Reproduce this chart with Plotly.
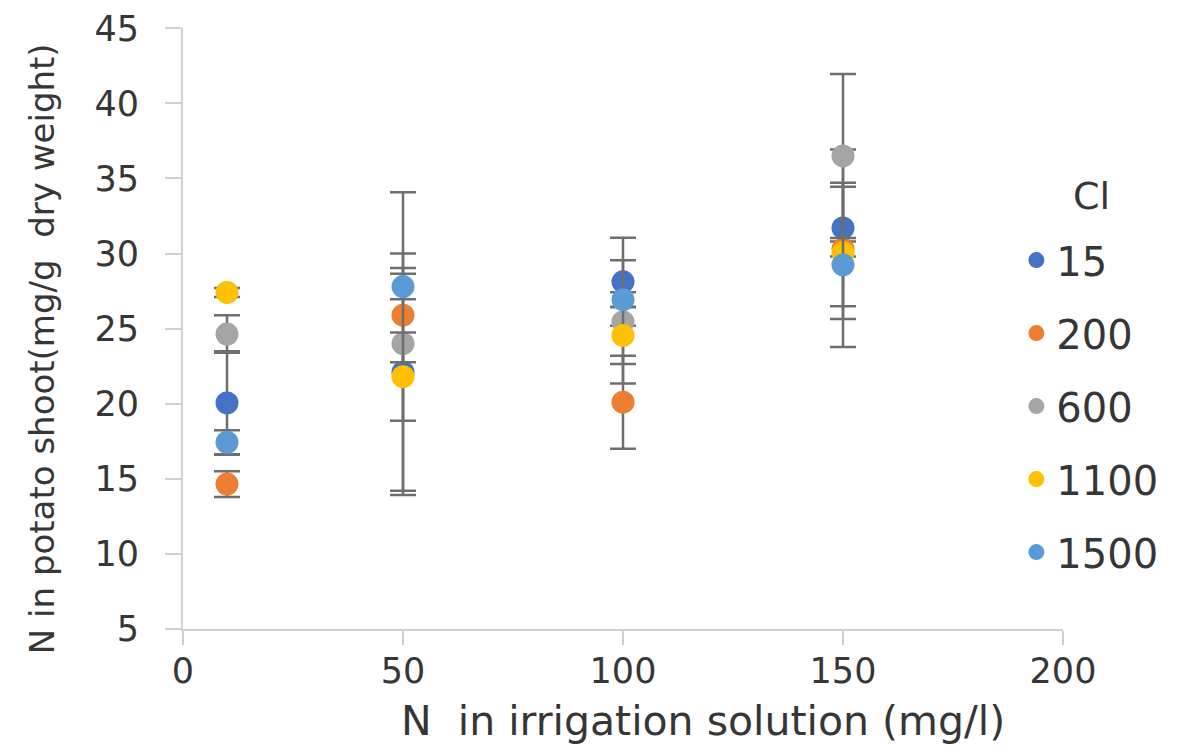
import plotly.graph_objects as go

x_vals = [10, 50, 100, 150]
series_names = ["15", "200", "600", "1100", "1500"]
colors = ["#4472C4", "#ED7D31", "#A5A5A5", "#FFC000", "#5B9BD5"]

y_15 = [20.05, 22.1, 28.12, 31.71]
y_200 = [14.65, 25.9, 20.1, 30.3]
y_600 = [24.64, 24.0, 25.45, 36.5]
y_1100 = [27.41, 21.8, 24.55, 30.05]
y_1500 = [17.43, 27.8, 26.93, 29.25]

err_15 = [3.45, 7.9, 2.93, 5.22]
err_200 = [0.86, 3.14, 3.1, 0.5]
err_600 = [1.25, 10.08, 4.1, 5.46]
err_1100 = [0.3, 2.94, 1.9, 4.4]
err_1500 = [0.8, 0.85, 0.5, 5.47]

ys = [y_15, y_200, y_600, y_1100, y_1500]
errs = [err_15, err_200, err_600, err_1100, err_1500]

x_title = "N  in irrigation solution (mg/l)"
y_title = "N in potato shoot(mg/g  dry weight)"
legend_title = "Cl"

FONT = "DejaVu Sans"
TXT = "#363636"
AX = "#d0d0d0"

fig = go.Figure()
for name, col, y, e in zip(series_names, colors, ys, errs):
    fig.add_trace(go.Scatter(
        x=x_vals, y=y, mode="markers", name=name, legendgroup=name,
        marker=dict(color=col, size=23, line=dict(width=0)),
        error_y=dict(type="data", array=e, visible=True, color="#6e6e6e",
                     thickness=2.5, width=13),
    ))

fig.update_layout(
    width=1183, height=743,
    margin=dict(l=175, r=128, t=20, b=122),
    paper_bgcolor="white", plot_bgcolor="white",
    font=dict(family=FONT, size=35, color=TXT),
    showlegend=True,
    legend=dict(
        x=0.947, xanchor="left", y=0.668, yanchor="top",
        font=dict(size=40, color=TXT),
        tracegroupgap=18, bgcolor="rgba(0,0,0,0)", itemsizing="trace",
    ),
    xaxis=dict(
        range=[0, 200], tickvals=[0, 50, 100, 150, 200],
        showgrid=False, zeroline=False, showline=True, automargin=False,
        linecolor=AX, linewidth=2,
        ticks="outside", ticklen=14, tickcolor=AX, tickwidth=2,
        ticklabelstandoff=-4, ticklabeloverflow="allow",
        tickfont=dict(size=35, color=TXT),
    ),
    yaxis=dict(
        range=[5, 45.02], tickvals=[5, 10, 15, 20, 25, 30, 35, 40, 45],
        showgrid=False, zeroline=False, showline=True, automargin=False,
        linecolor=AX, linewidth=2,
        ticks="outside", ticklen=16, tickcolor=AX, tickwidth=2,
        ticklabelstandoff=19, ticklabeloverflow="allow",
        tickfont=dict(size=35, color=TXT),
    ),
    annotations=[
        dict(text=x_title, xref="paper", yref="paper", x=0.591, y=-0.153,
             xanchor="center", yanchor="middle", showarrow=False,
             font=dict(size=41, color=TXT)),
        dict(text=y_title, xref="paper", yref="paper", x=-0.16, y=0.466,
             xanchor="center", yanchor="middle", showarrow=False, textangle=-90,
             font=dict(size=34, color=TXT)),
        dict(text=legend_title, xref="paper", yref="paper", x=(1091 - 183) / 880, y=(629 - 196) / 601,
             xanchor="center", yanchor="middle", showarrow=False,
             font=dict(size=38, color=TXT)),
    ],
)

fig.write_html("out.html")
